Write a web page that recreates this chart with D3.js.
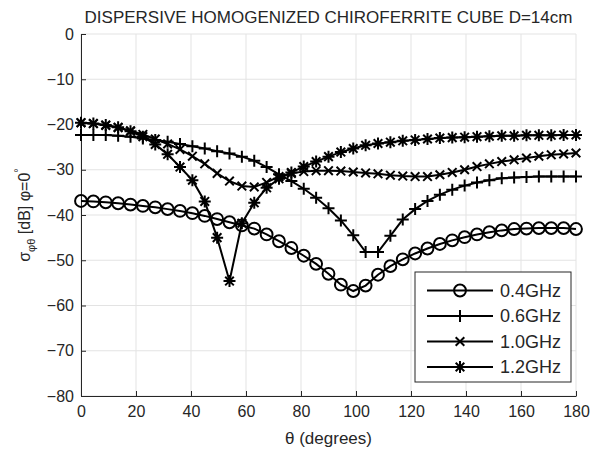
<!DOCTYPE html>
<html>
<head>
<meta charset="utf-8">
<script src="https://cdn.jsdelivr.net/npm/d3@7"></script>
<style>
  body { margin: 0; background: #fff; }
  text { font-family: "Liberation Sans", Arial, sans-serif; fill: #262626; }
</style>
</head>
<body>
<div id="chart"></div>
<script>
const theta = d3.range(0, 180.01, 4.5);

const s04 = [-36.9, -37.0, -37.2, -37.4, -37.7, -38.0, -38.3, -38.7, -39.1, -39.6,
  -40.2, -40.9, -41.6, -42.3, -43.0, -44.3, -45.8, -47.3, -49.0, -50.8,
  -53.0, -55.4, -56.8, -55.6, -53.2, -51.3, -49.8, -48.5, -47.4, -46.4,
  -45.6, -44.9, -44.3, -43.8, -43.4, -43.1, -43.0, -42.9, -42.9, -42.9, -43.1];

const s06 = [-22.3, -22.3, -22.3, -22.5, -22.7, -23.1, -23.4, -23.8, -24.3, -24.8,
  -25.3, -25.9, -26.4, -27.1, -28.0, -29.4, -31.0, -32.5, -34.2, -36.2,
  -38.5, -41.2, -44.5, -48.2, -48.2, -44.6, -41.0, -38.7, -36.9, -35.5,
  -34.4, -33.5, -32.8, -32.3, -31.9, -31.7, -31.6, -31.5, -31.5, -31.5, -31.5];

const s10 = [-19.6, -19.8, -20.2, -20.7, -21.4, -22.2, -23.2, -24.3, -25.5, -27.0,
  -28.7, -30.8, -32.5, -33.6, -33.8, -32.8, -31.5, -30.8, -30.4, -30.2,
  -30.2, -30.3, -30.5, -30.7, -30.9, -31.2, -31.4, -31.5, -31.5, -31.1,
  -30.6, -30.0, -29.3, -28.7, -28.2, -27.8, -27.4, -27.0, -26.7, -26.5, -26.3];

const s12 = [-19.6, -19.8, -20.1, -20.6, -21.5, -22.7, -24.4, -26.6, -29.4, -32.3,
  -37.0, -45.0, -54.6, -41.8, -37.3, -34.0, -32.0, -30.6, -29.3, -28.2,
  -27.1, -26.1, -25.3, -24.6, -24.2, -23.9, -23.6, -23.4, -23.2, -23.0,
  -22.9, -22.8, -22.7, -22.6, -22.5, -22.5, -22.4, -22.4, -22.4, -22.3, -22.3];

const seriesNames = ["0.4GHz", "0.6GHz", "1.0GHz", "1.2GHz"];
const seriesValues = [s04, s06, s10, s12];
const markerKinds = ["circle", "plus", "cross", "star"];

const xTicks = d3.range(0, 181, 20);
const yTicks = d3.range(-80, 1, 10);

const width = 592, height = 451;
const margin = { left: 81, right: 16, top: 34, bottom: 55 };

const svg = d3.select("#chart").append("svg")
  .attr("width", width)
  .attr("height", height);

const x = d3.scaleLinear().domain([0, 180]).range([margin.left, width - margin.right]);
const y = d3.scaleLinear().domain([-80, 0]).range([height - margin.bottom, margin.top]);

// grid
svg.append("g")
  .selectAll("line")
  .data(xTicks)
  .join("line")
  .attr("x1", d => x(d)).attr("x2", d => x(d))
  .attr("y1", y(-80)).attr("y2", y(0))
  .attr("stroke", "#e3e3e3");

svg.append("g")
  .selectAll("line")
  .data(yTicks)
  .join("line")
  .attr("x1", x(0)).attr("x2", x(180))
  .attr("y1", d => y(d)).attr("y2", d => y(d))
  .attr("stroke", "#e3e3e3");

// axes
const xAxis = svg.append("g")
  .attr("transform", `translate(0,${y(-80)})`)
  .call(d3.axisBottom(x).tickValues(xTicks).tickSizeInner(-5).tickSizeOuter(0).tickPadding(8));
const yAxis = svg.append("g")
  .attr("transform", `translate(${x(0)},0)`)
  .call(d3.axisLeft(y).tickValues(yTicks).tickSizeInner(-5).tickSizeOuter(0).tickPadding(7));

[xAxis, yAxis].forEach(g => {
  g.select(".domain").attr("stroke", "#262626").attr("stroke-width", 1);
  g.selectAll(".tick line").attr("stroke", "#262626");
  g.selectAll(".tick text").style("font-size", "16px").attr("fill", "#262626");
});
xAxis.selectAll(".tick text").attr("dy", "0.8em");

// markers
function markerPath(kind) {
  const a = 6, b = 4.3;
  if (kind === "plus") return `M${-a},0H${a}M0,${-a}V${a}`;
  if (kind === "cross") return `M${-b},${-b}L${b},${b}M${-b},${b}L${b},${-b}`;
  if (kind === "star") return `M${-a},0H${a}M0,${-a}V${a}M${-b},${-b}L${b},${b}M${-b},${b}L${b},${-b}`;
  return d3.symbol(d3.symbolCircle, 110)();
}

const line = d3.line().x(d => x(d[0])).y(d => y(d[1]));

seriesValues.forEach((vals, i) => {
  const pts = theta.map((t, j) => [t, vals[j]]);
  svg.append("path")
    .datum(pts)
    .attr("d", line)
    .attr("fill", "none")
    .attr("stroke", "#000")
    .attr("stroke-width", 2);
  svg.append("g")
    .selectAll("path")
    .data(pts)
    .join("path")
    .attr("transform", d => `translate(${x(d[0])},${y(d[1])})`)
    .attr("d", markerPath(markerKinds[i]))
    .attr("fill", "none")
    .attr("stroke", "#000")
    .attr("stroke-width", 2);
});

// legend
const lg = svg.append("g").attr("transform", "translate(415,272)");
lg.append("rect")
  .attr("width", 156).attr("height", 110)
  .attr("fill", "#fff").attr("stroke", "#262626");
seriesNames.forEach((name, i) => {
  const ry = 18.5 + i * 25.5;
  lg.append("line")
    .attr("x1", 12).attr("x2", 78).attr("y1", ry).attr("y2", ry)
    .attr("stroke", "#000").attr("stroke-width", 2);
  lg.append("path")
    .attr("transform", `translate(45,${ry})`)
    .attr("d", markerPath(markerKinds[i]))
    .attr("fill", "none").attr("stroke", "#000").attr("stroke-width", 2);
  lg.append("text")
    .attr("x", 85).attr("y", ry).attr("dy", "0.35em")
    .style("font-size", "18px")
    .text(name);
});

// title and labels
svg.append("text")
  .attr("x", (x(0) + x(180)) / 2).attr("y", 23)
  .attr("text-anchor", "middle")
  .style("font-size", "17px")
  .attr("fill", "#000")
  .text("DISPERSIVE HOMOGENIZED CHIROFERRITE CUBE D=14cm");

svg.append("text")
  .attr("x", (x(0) + x(180)) / 2).attr("y", 444)
  .attr("text-anchor", "middle")
  .style("font-size", "17px")
  .text("θ (degrees)");

const yl = svg.append("text")
  .attr("transform", `translate(30,${(y(-80) + y(0)) / 2}) rotate(-90)`)
  .attr("text-anchor", "middle")
  .style("font-size", "16px");
yl.append("tspan").text("σ");
yl.append("tspan").attr("dy", 5).style("font-size", "11px").text("φθ");
yl.append("tspan").attr("dy", -5).text(" [dB] φ=0");
yl.append("tspan").attr("dy", -8).style("font-size", "11px").text("°");
</script>
</body>
</html>
